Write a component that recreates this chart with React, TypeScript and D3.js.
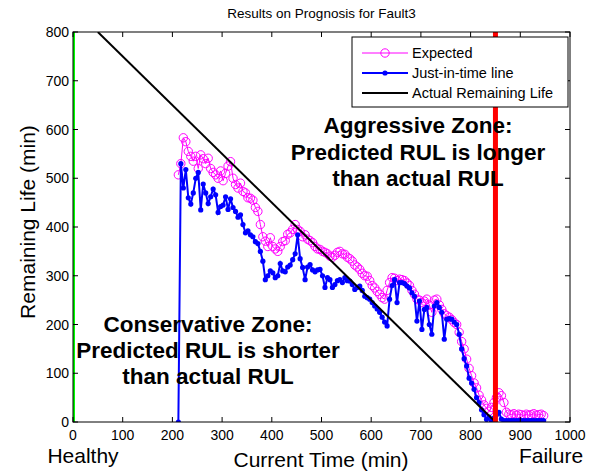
import React from 'react';
import * as d3 from 'd3';

// Just-in-time prediction (blue dots)
const jitTimes = [212, 217, 222, 227, 232, 237, 242, 247, 252, 257, 262, 267, 272, 277, 282, 287, 292, 297, 302, 307, 312, 317, 322, 327, 332, 337, 342, 347, 352, 357, 362, 367, 372, 377, 382, 387, 392, 397, 402, 407, 412, 417, 422, 427, 432, 437, 442, 447, 452, 457, 462, 467, 472, 477, 482, 487, 492, 497, 502, 507, 512, 517, 522, 527, 532, 537, 542, 547, 552, 557, 562, 567, 572, 577, 582, 587, 592, 597, 602, 607, 612, 617, 622, 627, 632, 637, 642, 647, 652, 657, 662, 667, 672, 677, 682, 687, 692, 697, 702, 707, 712, 717, 722, 727, 732, 737, 742, 747, 752, 757, 762, 767, 772, 777, 782, 787, 792, 797, 802, 807, 812, 817, 822, 827, 832, 837, 842, 847, 852, 857, 862, 867, 872, 877, 882, 887, 892, 897, 902, 907, 912, 917, 922, 927, 932, 937, 942, 947];
const jitValues = [0, 530, 480, 518, 460, 447, 470, 500, 512, 435, 488, 470, 448, 462, 478, 466, 430, 442, 445, 462, 436, 458, 440, 432, 420, 425, 405, 388, 392, 384, 380, 370, 366, 350, 330, 292, 300, 310, 306, 296, 300, 325, 310, 308, 318, 322, 333, 345, 384, 335, 317, 292, 318, 323, 312, 308, 312, 313, 300, 276, 296, 292, 276, 282, 290, 292, 286, 296, 290, 289, 282, 272, 276, 279, 270, 258, 255, 252, 245, 238, 232, 225, 215, 205, 197, 252, 280, 292, 245, 286, 286, 284, 279, 275, 265, 258, 207, 248, 190, 231, 235, 200, 180, 238, 245, 235, 225, 170, 211, 212, 211, 205, 200, 180, 150, 130, 115, 90, 80, 67, 50, 40, 25, 15, 5, 10, 2, 8, 15, 20, 6, 3, 3, 3, 3, 3, 3, 3, 3, 3, 3, 3, 3, 3, 3, 3, 3, 3];

// Expected prediction (magenta circles)
const expTimes = [212, 217, 222, 227, 232, 237, 242, 247, 252, 257, 262, 267, 272, 277, 282, 287, 292, 297, 302, 307, 312, 317, 322, 327, 332, 337, 342, 347, 352, 357, 362, 367, 372, 377, 382, 387, 392, 397, 402, 407, 412, 417, 422, 427, 432, 437, 442, 447, 452, 457, 462, 467, 472, 477, 482, 487, 492, 497, 502, 507, 512, 517, 522, 527, 532, 537, 542, 547, 552, 557, 562, 567, 572, 577, 582, 587, 592, 597, 602, 607, 612, 617, 622, 627, 632, 637, 642, 647, 652, 657, 662, 667, 672, 677, 682, 687, 692, 697, 702, 707, 712, 717, 722, 727, 732, 737, 742, 747, 752, 757, 762, 767, 772, 777, 782, 787, 792, 797, 802, 807, 812, 817, 822, 827, 832, 837, 842, 847, 852, 857, 862, 867, 872, 877, 882, 887, 892, 897, 902, 907, 912, 917, 922, 927, 932, 937, 942, 947];
const expValues = [507, 530, 583, 575, 555, 545, 535, 545, 520, 548, 540, 530, 541, 520, 512, 507, 500, 515, 495, 510, 525, 534, 500, 487, 480, 490, 473, 470, 460, 459, 455, 440, 432, 405, 380, 371, 360, 378, 360, 355, 350, 360, 370, 372, 385, 388, 395, 405, 395, 391, 380, 384, 375, 372, 368, 360, 355, 354, 350, 348, 345, 340, 338, 342, 348, 350, 345, 344, 338, 335, 330, 322, 318, 313, 305, 300, 299, 290, 280, 275, 268, 262, 255, 252, 270, 286, 296, 295, 290, 293, 292, 290, 285, 280, 270, 262, 252, 250, 245, 248, 252, 240, 225, 250, 252, 240, 231, 222, 218, 215, 210, 204, 200, 184, 165, 150, 129, 110, 95, 80, 70, 55, 45, 35, 28, 22, 30, 40, 50, 60, 54, 40, 20, 16, 15, 17, 14, 16, 15, 13, 16, 14, 15, 17, 14, 15, 16, 13];

// Actual remaining life: straight line
const actualTimes = [50, 850];
const actualValues = [800, 0];

const xTicks = [0, 100, 200, 300, 400, 500, 600, 700, 800, 900, 1000];
const yTicks = [0, 100, 200, 300, 400, 500, 600, 700, 800];
const healthyTime = 0;
const failureTime = 850;

const legendLabels = ['Expected', 'Just-in-time line', 'Actual Remaining Life'];
const aggressiveText = ['Aggressive Zone:', 'Predicted RUL is longer', 'than actual RUL'];
const conservativeText = ['Conservative Zone:', 'Predicted RUL is shorter', 'than actual RUL'];

const FONT = 'Liberation Sans, Arial, sans-serif';

export default function App() {
  const W = 593;
  const H = 472;
  const left = 73, right = 570, top = 32, bottom = 422;

  const x = d3.scaleLinear().domain([0, 1000]).range([left, right]);
  const y = d3.scaleLinear().domain([0, 800]).range([bottom, top]);

  const exp = expTimes.map((t, i) => [t, expValues[i]] as [number, number]);
  const jit = jitTimes.map((t, i) => [t, jitValues[i]] as [number, number]);
  const act = actualTimes.map((t, i) => [t, actualValues[i]] as [number, number]);

  const line = d3.line<[number, number]>().x(d => x(d[0])).y(d => y(d[1]));

  const tickLen = 5;
  const legX = 352, legY = 37, legW = 216, legH = 70;

  return (
    <svg width={W} height={H} style={{ position: 'absolute', left: 0, top: 0, background: '#fff' }}
      fontFamily={FONT}>
      <rect x={0} y={0} width={W} height={H} fill="#fff" />
      <defs>
        <clipPath id="plotClip">
          <rect x={left} y={top} width={right - left} height={bottom - top} />
        </clipPath>
      </defs>

      <text x={(left + right) / 2} y={18} fontSize={13.5} textAnchor="middle">Results on Prognosis for Fault3</text>

      <g clipPath="url(#plotClip)">
        {/* expected */}
        <path d={line(exp) || ''} fill="none" stroke="#ff00ff" strokeWidth={1} />
        {exp.map((d, i) => (
          <circle key={'e' + i} cx={x(d[0])} cy={y(d[1])} r={4.2} fill="none" stroke="#ff00ff" strokeWidth={1} />
        ))}
        {/* just in time */}
        <path d={line(jit) || ''} fill="none" stroke="#0000ff" strokeWidth={2} />
        {jit.map((d, i) => (
          <circle key={'j' + i} cx={x(d[0])} cy={y(d[1])} r={2.6} fill="#0000ff" />
        ))}
        {/* actual */}
        <path d={line(act) || ''} fill="none" stroke="#000" strokeWidth={2} />
        {/* healthy / failure */}
        <line x1={x(healthyTime)} x2={x(healthyTime)} y1={top} y2={bottom} stroke="#00ff00" strokeWidth={4} />
        <line x1={x(failureTime)} x2={x(failureTime)} y1={top} y2={bottom} stroke="#ff0000" strokeWidth={5} />
      </g>

      {/* axes box */}
      <rect x={left} y={top} width={right - left} height={bottom - top} fill="none" stroke="#000" strokeWidth={1} />
      {xTicks.map(t => (
        <g key={'xt' + t}>
          <line x1={x(t)} x2={x(t)} y1={bottom} y2={bottom - tickLen} stroke="#000" />
          <line x1={x(t)} x2={x(t)} y1={top} y2={top + tickLen} stroke="#000" />
          <text x={x(t)} y={440} fontSize={14} textAnchor="middle">{t}</text>
        </g>
      ))}
      {yTicks.map(t => (
        <g key={'yt' + t}>
          <line x1={left} x2={left + tickLen} y1={y(t)} y2={y(t)} stroke="#000" />
          <line x1={right} x2={right - tickLen} y1={y(t)} y2={y(t)} stroke="#000" />
          <text x={left - 4} y={y(t) + 5} fontSize={14} textAnchor="end">{t}</text>
        </g>
      ))}

      <text x={321} y={467} fontSize={21} textAnchor="middle">Current Time (min)</text>
      <text transform={`translate(35,222) rotate(-90)`} fontSize={21} textAnchor="middle">Remaining Life (min)</text>
      <text x={83} y={463} fontSize={21} textAnchor="middle">Healthy</text>
      <text x={551} y={463} fontSize={21} textAnchor="middle">Failure</text>

      {/* zone annotations */}
      {aggressiveText.map((s, i) => (
        <text key={'a' + i} x={418} y={133 + i * 26.5} fontSize={22.5} fontWeight="bold" textAnchor="middle">{s}</text>
      ))}
      {conservativeText.map((s, i) => (
        <text key={'c' + i} x={208} y={332 + i * 26} fontSize={22.5} fontWeight="bold" textAnchor="middle">{s}</text>
      ))}

      {/* legend */}
      <rect x={legX} y={legY} width={legW} height={legH} fill="#fff" stroke="#000" strokeWidth={1} />
      {legendLabels.map((s, i) => {
        const ly = legY + 16 + i * 20;
        const colors = ['#ff00ff', '#0000ff', '#000'];
        return (
          <g key={'l' + i}>
            <line x1={legX + 10} x2={legX + 56} y1={ly} y2={ly} stroke={colors[i]} strokeWidth={i === 0 ? 1 : 2} />
            {i === 0 && <circle cx={legX + 33} cy={ly} r={4.2} fill="none" stroke="#ff00ff" />}
            {i === 1 && <circle cx={legX + 33} cy={ly} r={2.6} fill="#0000ff" />}
            <text x={legX + 60} y={ly + 5} fontSize={14.5}>{s}</text>
          </g>
        );
      })}
    </svg>
  );
}
